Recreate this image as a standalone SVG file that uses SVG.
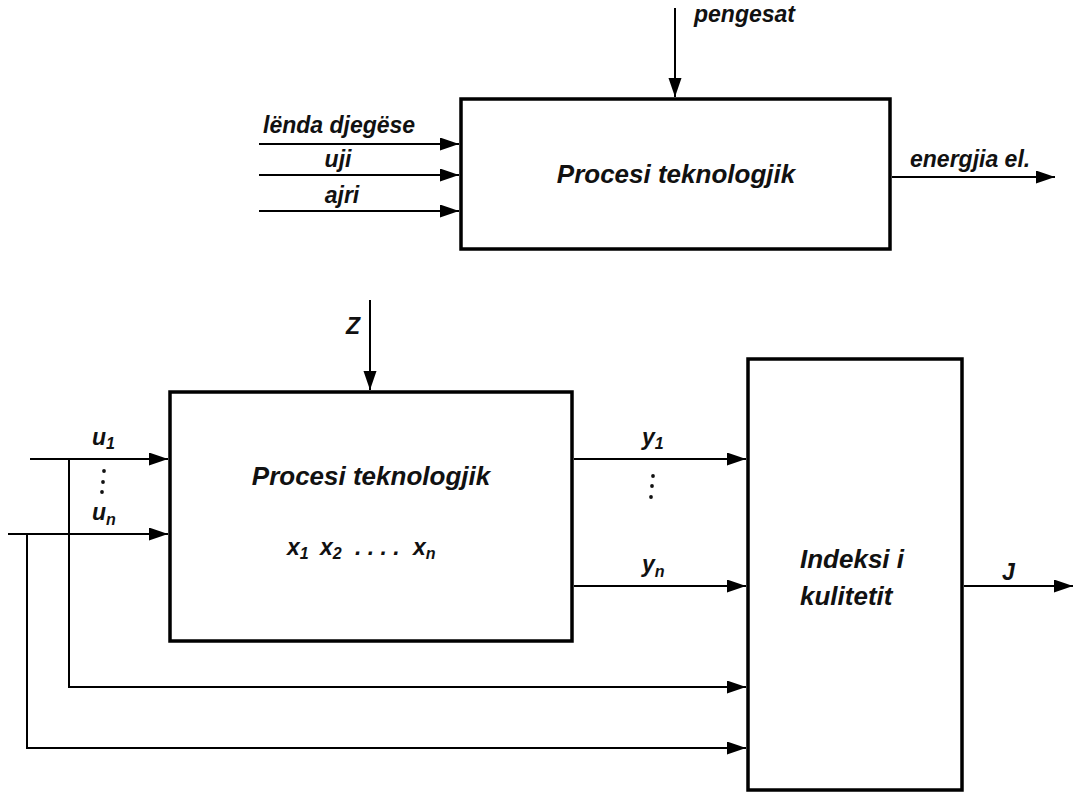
<svg xmlns="http://www.w3.org/2000/svg" width="1073" height="793" viewBox="0 0 1073 793">
<style>
.box{fill:#fff;stroke:#000;stroke-width:3.5}
.c{fill:none;stroke:#000;stroke-width:2}
.t{font-family:"Liberation Sans",Arial,sans-serif;font-style:italic;font-weight:bold;fill:#111}
.big{font-size:26px}
.lab{font-size:23px}
.sub{font-size:16px}
</style>
<defs>
<marker id="ah" markerUnits="userSpaceOnUse" markerWidth="20" markerHeight="14" refX="19" refY="6.5" orient="auto">
<path d="M0,0 L19,6.5 L0,13 z" fill="#000"/>
</marker>
</defs>
<rect width="1073" height="793" fill="#fff"/>
<g id="connectors">
<line class="c" x1="675" y1="8" x2="675" y2="97" marker-end="url(#ah)"/>
<line class="c" x1="259" y1="144" x2="459" y2="144" marker-end="url(#ah)"/>
<line class="c" x1="259" y1="175" x2="459" y2="175" marker-end="url(#ah)"/>
<line class="c" x1="259" y1="211" x2="459" y2="211" marker-end="url(#ah)"/>
<line class="c" x1="892" y1="177" x2="1055" y2="177" marker-end="url(#ah)"/>
<line class="c" x1="370" y1="300" x2="370" y2="390" marker-end="url(#ah)"/>
<line class="c" x1="30" y1="459" x2="168" y2="459" marker-end="url(#ah)"/>
<line class="c" x1="8" y1="534" x2="168" y2="534" marker-end="url(#ah)"/>
<polyline class="c" points="69,459 69,687 746,687" marker-end="url(#ah)"/>
<polyline class="c" points="27,534 27,748 746,748" marker-end="url(#ah)"/>
<line class="c" x1="574" y1="459" x2="746" y2="459" marker-end="url(#ah)"/>
<line class="c" x1="574" y1="586" x2="746" y2="586" marker-end="url(#ah)"/>
<line class="c" x1="964" y1="586" x2="1073" y2="586" marker-end="url(#ah)"/>
</g>
<g id="labels">
<text class="t lab" x="694" y="22">pengesat</text>
<text class="t lab" x="263" y="133">lënda djegëse</text>
<text class="t lab" x="338" y="167" text-anchor="middle">uji</text>
<text class="t lab" x="342" y="203" text-anchor="middle">ajri</text>
<text class="t lab" x="910" y="167">energjia el.</text>
<text class="t lab" x="346" y="334">Z</text>
<text class="t lab" x="92" y="445">u<tspan class="sub" dy="4">1</tspan></text>
<text class="t lab" x="92" y="520">u<tspan class="sub" dy="5">n</tspan></text>
<g fill="#111"><circle cx="104" cy="471" r="1.9"/><circle cx="103" cy="482" r="1.9"/><circle cx="102" cy="492" r="1.9"/></g>
<text class="t lab" x="642" y="445">y<tspan class="sub" dy="4">1</tspan></text>
<text class="t lab" x="642" y="572">y<tspan class="sub" dy="5">n</tspan></text>
<g fill="#111"><circle cx="653" cy="476" r="1.9"/><circle cx="652" cy="486" r="1.9"/><circle cx="651" cy="497" r="1.9"/></g>
<text class="t lab" x="1002" y="580">J</text>
</g>
<g id="node-top">
<rect class="box" x="461" y="99" width="429" height="150"/>
<text class="t big" x="676" y="183" text-anchor="middle">Procesi teknologjik</text>
</g>
<g id="node-process">
<rect class="box" x="170" y="392" width="402" height="249"/>
<text class="t big" x="371" y="485" text-anchor="middle">Procesi teknologjik</text>
<text class="t lab" y="555"><tspan x="287">x</tspan><tspan class="sub" dy="4">1</tspan><tspan x="320" dy="-4">x</tspan><tspan class="sub" dy="4">2</tspan><tspan x="355" dy="-4">. . . .</tspan><tspan x="413">x</tspan><tspan class="sub" dy="4">n</tspan></text>
</g>
<g id="node-index">
<rect class="box" x="748" y="359" width="214" height="431"/>
<text class="t big" x="800" y="568">Indeksi i</text>
<text class="t big" x="800" y="605">kulitetit</text>
</g>
</svg>
